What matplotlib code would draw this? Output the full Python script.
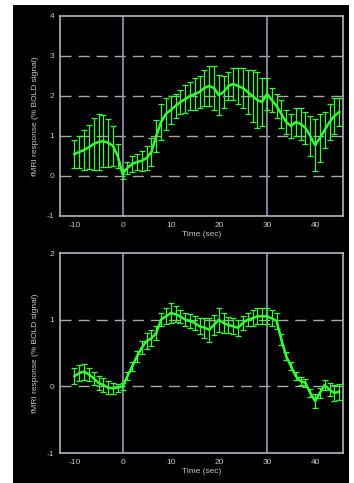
import matplotlib
matplotlib.use("Agg")
import matplotlib.pyplot as plt
from matplotlib.patches import Rectangle
import numpy as np

plt.rcParams['axes.unicode_minus'] = False
plt.rcParams['font.family'] = ['Liberation Sans', 'DejaVu Sans']

time_sec = list(range(-10, 46))

top_mean = [0.55, 0.6, 0.65, 0.72, 0.8, 0.85, 0.87, 0.83, 0.75, 0.5,
            0.05, 0.2, 0.3, 0.35, 0.38, 0.45, 0.6, 1.0, 1.35, 1.55,
            1.65, 1.75, 1.85, 1.92, 2.0, 2.05, 2.1, 2.2, 2.25, 2.2,
            2.02, 2.1, 2.25, 2.3, 2.25, 2.2, 2.1, 2.0, 1.9, 1.85,
            2.05, 1.9, 1.75, 1.55, 1.35, 1.25, 1.35, 1.3, 1.2, 1.0,
            0.77, 0.95, 1.15, 1.35, 1.5, 1.6]
top_err = [0.35, 0.4, 0.5, 0.55, 0.65, 0.7, 0.65, 0.6, 0.5, 0.3,
           0.12, 0.15, 0.2, 0.2, 0.25, 0.3, 0.35, 0.4, 0.45, 0.4,
           0.35, 0.3, 0.3, 0.35, 0.35, 0.4, 0.4, 0.45, 0.5, 0.55,
           0.5, 0.4, 0.35, 0.4, 0.45, 0.5, 0.55, 0.65, 0.7, 0.6,
           0.4, 0.3, 0.3, 0.35, 0.3, 0.3, 0.35, 0.4, 0.4, 0.5,
           0.65, 0.6, 0.45, 0.45, 0.45, 0.35]

bot_mean = [0.15, 0.2, 0.22, 0.18, 0.12, 0.05, 0.02, -0.02, -0.03, -0.02,
            0.0, 0.15, 0.3, 0.45, 0.58, 0.68, 0.72, 0.8, 1.0, 1.05,
            1.1, 1.08, 1.05, 1.0, 0.98, 0.95, 0.9, 0.88, 0.85, 0.92,
            1.0, 0.95, 0.92, 0.9, 0.88, 0.95, 1.0, 1.02, 1.05, 1.05,
            1.05, 1.02, 0.98, 0.7, 0.45, 0.3, 0.15, 0.08, 0.05, -0.1,
            -0.22, -0.1, 0.02, -0.05, -0.1, -0.08]
bot_err = [0.12, 0.12, 0.12, 0.1, 0.1, 0.1, 0.1, 0.1, 0.08, 0.06,
           0.05, 0.06, 0.07, 0.08, 0.1, 0.12, 0.12, 0.1, 0.1, 0.12,
           0.15, 0.12, 0.1, 0.1, 0.1, 0.1, 0.12, 0.15, 0.18, 0.15,
           0.18, 0.15, 0.12, 0.12, 0.12, 0.1, 0.1, 0.12, 0.12, 0.12,
           0.12, 0.12, 0.12, 0.08, 0.06, 0.06, 0.06, 0.06, 0.06, 0.06,
           0.1, 0.08, 0.08, 0.1, 0.12, 0.12]

top_yticks = [-1, 0, 1, 2, 3, 4]
bot_yticks = [-1, 0, 1, 2]
xticks = [-10, 0, 10, 20, 30, 40]

W, H = 354, 483
fig = plt.figure(figsize=(W / 100, H / 100), dpi=100, facecolor="white")
fig.patches.append(Rectangle((13 / W, 0), (349 - 13) / W, 1 - 5 / H,
                             transform=fig.transFigure, facecolor="black",
                             edgecolor="none", zorder=-10))

green = "#33ff33"
frame_c = "#b4b4be"
grid_c = "#a8a8a8"
vline_c = "#9a9ab4"
text_c = "#c8c8c8"


def panel(rect, mean, err, ylim, yticks, grid_vals):
    ax = fig.add_axes(rect, zorder=5)
    ax.set_facecolor("black")
    ax.set_xlim(-13, 45.8)
    ax.set_ylim(*ylim)
    for g in grid_vals:
        ax.axhline(g, color=grid_c, lw=1.0, dashes=(8, 5), zorder=1)
    for v in (0, 30):
        ax.axvline(v, color=vline_c, lw=1.2, zorder=1)
    ax.errorbar(time_sec, mean, yerr=err, color=green, lw=1.8,
                elinewidth=0.9, capsize=2.0, capthick=0.9, zorder=3)
    for s in ax.spines.values():
        s.set_color(frame_c)
        s.set_linewidth(1.2)
    ax.set_xticks(xticks)
    ax.set_yticks(yticks)
    ax.tick_params(colors=text_c, labelsize=6, length=0, pad=4)
    ax.set_xlabel("Time (sec)", color=text_c, fontsize=6, labelpad=2)
    ax.set_ylabel("fMRI response (% BOLD signal)", color=text_c,
                  fontsize=6, labelpad=6)
    return ax


panel([60 / W, 1 - 216 / H, 283 / W, 200 / H], top_mean, top_err,
      (-1, 4), top_yticks, [0, 1, 2, 3])
panel([60 / W, 1 - 453 / H, 283 / W, 200 / H], bot_mean, bot_err,
      (-1, 2), bot_yticks, [0, 1])

fig.savefig("out.png", dpi=100, facecolor=fig.get_facecolor())
